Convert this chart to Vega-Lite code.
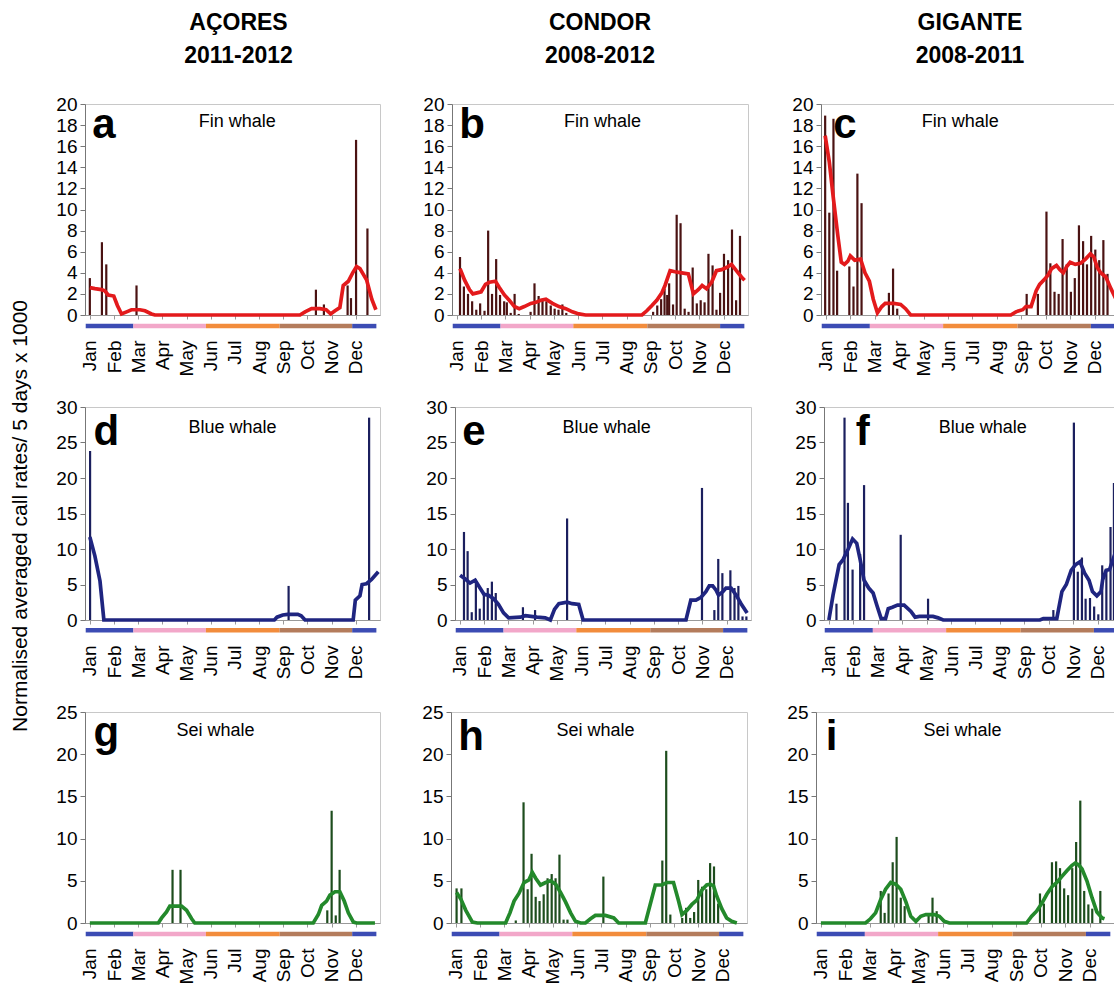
{
"$schema": "https://vega.github.io/schema/vega-lite/v6.json",
"padding": {"left": 10, "top": 11, "right": 0, "bottom": 0},
"background": "white",
"config": {"font": "Liberation Sans", "view": {"stroke": "#c8c8c8"}, "axis": {"labelFont": "Liberation Sans", "labelColor": "#000", "grid": false, "labelOverlap": false, "labelFlush": false, "labelBound": false, "tickCount": 60}, "concat": {"spacing": 38}},
"title": {"text": "Normalised averaged call rates/ 5 days x 1000", "orient": "left", "anchor": "middle", "fontSize": 21, "fontWeight": "normal", "font": "Liberation Sans", "offset": 24, "dx": -18, "color": "#000"},
"datasets": {
"seasons": [{"s":"W","t0":-0.17,"t1":1.8},{"s":"Sp","t0":1.8,"t1":4.8},{"s":"Su","t0":4.8,"t1":7.85},{"s":"A","t0":7.85,"t1":10.85},{"s":"W","t0":10.85,"t1":11.85}],
"bars": [
{"p":"a","t":0,"v":3.5},{"p":"a","t":0.5,"v":6.9},{"p":"a","t":0.68,"v":4.8},{"p":"a","t":1.93,"v":2.8},{"p":"a","t":9.35,"v":2.4},{"p":"a","t":9.68,"v":1.0},{"p":"a","t":10.66,"v":2.8},{"p":"a","t":10.8,"v":1.6},{"p":"a","t":11.01,"v":16.6},{"p":"a","t":11.48,"v":8.2},
{"p":"b","t":0.13,"v":5.5},{"p":"b","t":0.29,"v":2.7},{"p":"b","t":0.46,"v":2.0},{"p":"b","t":0.63,"v":1.3},{"p":"b","t":0.8,"v":0.5},{"p":"b","t":0.96,"v":1.1},{"p":"b","t":1.14,"v":0.4},{"p":"b","t":1.29,"v":8.0},{"p":"b","t":1.45,"v":2.0},{"p":"b","t":1.62,"v":5.3},{"p":"b","t":1.78,"v":1.9},{"p":"b","t":1.95,"v":1.3},{"p":"b","t":2.06,"v":1.2},{"p":"b","t":2.22,"v":0.2},{"p":"b","t":2.38,"v":2.0},{"p":"b","t":2.55,"v":0.1},{"p":"b","t":3.04,"v":0.3},{"p":"b","t":3.2,"v":3.0},{"p":"b","t":3.37,"v":1.8},{"p":"b","t":3.53,"v":1.5},{"p":"b","t":3.69,"v":1.3},{"p":"b","t":3.87,"v":0.9},{"p":"b","t":4.03,"v":0.6},{"p":"b","t":4.19,"v":0.5},{"p":"b","t":4.35,"v":1.0},{"p":"b","t":4.51,"v":0.2},{"p":"b","t":8.09,"v":0.3},{"p":"b","t":8.26,"v":0.9},{"p":"b","t":8.42,"v":1.5},{"p":"b","t":8.56,"v":2.5},{"p":"b","t":8.67,"v":1.9},{"p":"b","t":8.75,"v":3.0},{"p":"b","t":8.91,"v":1.0},{"p":"b","t":9.06,"v":9.5},{"p":"b","t":9.22,"v":8.7},{"p":"b","t":9.39,"v":0.6},{"p":"b","t":9.55,"v":0.3},{"p":"b","t":9.72,"v":4.5},{"p":"b","t":9.89,"v":1.1},{"p":"b","t":10.05,"v":1.4},{"p":"b","t":10.21,"v":1.2},{"p":"b","t":10.37,"v":5.8},{"p":"b","t":10.54,"v":4.7},{"p":"b","t":10.7,"v":0.5},{"p":"b","t":10.85,"v":2.1},{"p":"b","t":11.01,"v":5.8},{"p":"b","t":11.18,"v":5.2},{"p":"b","t":11.34,"v":8.1},{"p":"b","t":11.51,"v":1.4},{"p":"b","t":11.67,"v":7.5},
{"p":"c","t":-0.03,"v":18.9},{"p":"c","t":0.14,"v":9.7},{"p":"c","t":0.31,"v":18.6},{"p":"c","t":0.46,"v":4.2},{"p":"c","t":0.96,"v":4.6},{"p":"c","t":1.13,"v":2.7},{"p":"c","t":1.29,"v":13.4},{"p":"c","t":1.46,"v":10.6},{"p":"c","t":2.58,"v":2.1},{"p":"c","t":2.75,"v":4.4},{"p":"c","t":2.92,"v":0.6},{"p":"c","t":8.22,"v":2.0},{"p":"c","t":8.68,"v":2.0},{"p":"c","t":9.03,"v":9.8},{"p":"c","t":9.19,"v":4.9},{"p":"c","t":9.36,"v":2.2},{"p":"c","t":9.53,"v":2.0},{"p":"c","t":9.69,"v":7.2},{"p":"c","t":9.86,"v":4.8},{"p":"c","t":10.03,"v":2.2},{"p":"c","t":10.19,"v":3.5},{"p":"c","t":10.36,"v":8.5},{"p":"c","t":10.53,"v":7.0},{"p":"c","t":10.69,"v":4.8},{"p":"c","t":10.86,"v":7.5},{"p":"c","t":11.03,"v":6.2},{"p":"c","t":11.19,"v":5.2},{"p":"c","t":11.36,"v":7.1},{"p":"c","t":11.53,"v":3.9},{"p":"c","t":11.86,"v":4.5},
{"p":"d","t":0.01,"v":23.8},{"p":"d","t":8.22,"v":4.8},{"p":"d","t":11.55,"v":28.5},
{"p":"e","t":0.17,"v":12.4},{"p":"e","t":0.32,"v":9.7},{"p":"e","t":0.49,"v":1.1},{"p":"e","t":0.66,"v":5.7},{"p":"e","t":0.82,"v":1.6},{"p":"e","t":0.99,"v":3.5},{"p":"e","t":1.15,"v":4.5},{"p":"e","t":1.32,"v":5.4},{"p":"e","t":1.48,"v":3.8},{"p":"e","t":2.6,"v":1.8},{"p":"e","t":3.1,"v":1.4},{"p":"e","t":4.42,"v":14.3},{"p":"e","t":9.98,"v":18.6},{"p":"e","t":10.49,"v":1.4},{"p":"e","t":10.65,"v":8.6},{"p":"e","t":10.82,"v":6.6},{"p":"e","t":11.15,"v":7.0},{"p":"e","t":11.32,"v":4.5},{"p":"e","t":11.48,"v":4.8},{"p":"e","t":11.65,"v":0.5},{"p":"e","t":11.81,"v":0.5},
{"p":"f","t":0.31,"v":2.3},{"p":"f","t":0.64,"v":28.5},{"p":"f","t":0.78,"v":16.5},{"p":"f","t":0.97,"v":7.1},{"p":"f","t":1.28,"v":9.3},{"p":"f","t":1.44,"v":19.0},{"p":"f","t":2.94,"v":12.0},{"p":"f","t":4.06,"v":3.0},{"p":"f","t":9.19,"v":1.4},{"p":"f","t":10.03,"v":27.8},{"p":"f","t":10.19,"v":6.8},{"p":"f","t":10.36,"v":8.8},{"p":"f","t":10.51,"v":3.0},{"p":"f","t":10.69,"v":3.1},{"p":"f","t":10.86,"v":1.9},{"p":"f","t":11.03,"v":0.8},{"p":"f","t":11.19,"v":7.7},{"p":"f","t":11.36,"v":7.0},{"p":"f","t":11.53,"v":13.1},{"p":"f","t":11.67,"v":19.3},{"p":"f","t":11.86,"v":2.3},
{"p":"g","t":3.42,"v":6.3},{"p":"g","t":3.75,"v":6.3},{"p":"g","t":9.82,"v":1.5},{"p":"g","t":10.0,"v":13.3},{"p":"g","t":10.17,"v":0.9},{"p":"g","t":10.33,"v":6.3},
{"p":"h","t":0.03,"v":4.1},{"p":"h","t":0.23,"v":4.1},{"p":"h","t":2.47,"v":0.3},{"p":"h","t":2.79,"v":14.3},{"p":"h","t":2.96,"v":4.0},{"p":"h","t":3.12,"v":8.2},{"p":"h","t":3.29,"v":3.1},{"p":"h","t":3.45,"v":2.6},{"p":"h","t":3.62,"v":3.4},{"p":"h","t":3.78,"v":5.3},{"p":"h","t":3.95,"v":5.8},{"p":"h","t":4.11,"v":5.3},{"p":"h","t":4.27,"v":8.1},{"p":"h","t":4.44,"v":0.4},{"p":"h","t":4.6,"v":0.4},{"p":"h","t":6.08,"v":5.5},{"p":"h","t":8.51,"v":7.4},{"p":"h","t":8.67,"v":20.4},{"p":"h","t":8.84,"v":1.0},{"p":"h","t":9.33,"v":0.6},{"p":"h","t":9.49,"v":1.8},{"p":"h","t":9.66,"v":0.6},{"p":"h","t":9.82,"v":1.3},{"p":"h","t":9.99,"v":5.1},{"p":"h","t":10.15,"v":4.3},{"p":"h","t":10.32,"v":4.0},{"p":"h","t":10.48,"v":7.1},{"p":"h","t":10.64,"v":6.7},{"p":"h","t":10.81,"v":2.3},
{"p":"i","t":2.45,"v":3.8},{"p":"i","t":2.61,"v":1.2},{"p":"i","t":2.77,"v":3.5},{"p":"i","t":2.94,"v":7.2},{"p":"i","t":3.1,"v":10.2},{"p":"i","t":3.27,"v":3.0},{"p":"i","t":3.43,"v":2.0},{"p":"i","t":4.41,"v":0.9},{"p":"i","t":4.57,"v":3.0},{"p":"i","t":4.74,"v":1.4},{"p":"i","t":8.97,"v":3.5},{"p":"i","t":9.13,"v":2.3},{"p":"i","t":9.46,"v":7.2},{"p":"i","t":9.63,"v":7.3},{"p":"i","t":9.79,"v":6.5},{"p":"i","t":9.96,"v":4.1},{"p":"i","t":10.12,"v":3.3},{"p":"i","t":10.29,"v":6.5},{"p":"i","t":10.45,"v":9.6},{"p":"i","t":10.62,"v":14.5},{"p":"i","t":10.78,"v":3.8},{"p":"i","t":10.95,"v":2.2},{"p":"i","t":11.11,"v":1.7},{"p":"i","t":11.44,"v":3.8}
],
"lines": [
{"p":"a","t":0,"v":2.6},{"p":"a","t":0.21,"v":2.5},{"p":"a","t":0.48,"v":2.4},{"p":"a","t":0.62,"v":2.3},{"p":"a","t":0.76,"v":1.9},{"p":"a","t":0.99,"v":1.8},{"p":"a","t":1.14,"v":0.9},{"p":"a","t":1.31,"v":0.1},{"p":"a","t":1.52,"v":0.3},{"p":"a","t":1.72,"v":0.5},{"p":"a","t":2.07,"v":0.5},{"p":"a","t":2.28,"v":0.4},{"p":"a","t":2.55,"v":0.1},{"p":"a","t":2.69,"v":0},{"p":"a","t":8.69,"v":0},{"p":"a","t":8.9,"v":0.3},{"p":"a","t":9.17,"v":0.6},{"p":"a","t":9.52,"v":0.6},{"p":"a","t":9.77,"v":0.5},{"p":"a","t":9.96,"v":0.1},{"p":"a","t":10.14,"v":0.4},{"p":"a","t":10.34,"v":0.7},{"p":"a","t":10.48,"v":2.8},{"p":"a","t":10.69,"v":3.2},{"p":"a","t":10.87,"v":4.0},{"p":"a","t":11.03,"v":4.6},{"p":"a","t":11.17,"v":4.4},{"p":"a","t":11.45,"v":3.3},{"p":"a","t":11.66,"v":1.5},{"p":"a","t":11.83,"v":0.5},
{"p":"b","t":0.13,"v":4.4},{"p":"b","t":0.32,"v":3.3},{"p":"b","t":0.52,"v":2.4},{"p":"b","t":0.66,"v":2.0},{"p":"b","t":0.83,"v":2.1},{"p":"b","t":1.0,"v":2.2},{"p":"b","t":1.18,"v":2.9},{"p":"b","t":1.34,"v":3.1},{"p":"b","t":1.59,"v":3.2},{"p":"b","t":1.75,"v":2.6},{"p":"b","t":1.96,"v":1.9},{"p":"b","t":2.16,"v":1.4},{"p":"b","t":2.37,"v":0.8},{"p":"b","t":2.57,"v":0.6},{"p":"b","t":2.78,"v":0.8},{"p":"b","t":3.05,"v":1.1},{"p":"b","t":3.26,"v":1.2},{"p":"b","t":3.46,"v":1.4},{"p":"b","t":3.67,"v":1.5},{"p":"b","t":3.94,"v":1.1},{"p":"b","t":4.21,"v":0.8},{"p":"b","t":4.49,"v":0.6},{"p":"b","t":4.76,"v":0.3},{"p":"b","t":5.03,"v":0.1},{"p":"b","t":5.31,"v":0},{"p":"b","t":7.63,"v":0},{"p":"b","t":7.83,"v":0.4},{"p":"b","t":8.04,"v":0.9},{"p":"b","t":8.24,"v":1.4},{"p":"b","t":8.45,"v":2.1},{"p":"b","t":8.58,"v":2.8},{"p":"b","t":8.79,"v":4.2},{"p":"b","t":8.99,"v":4.1},{"p":"b","t":9.27,"v":4.0},{"p":"b","t":9.54,"v":3.9},{"p":"b","t":9.75,"v":2.0},{"p":"b","t":9.95,"v":2.4},{"p":"b","t":10.11,"v":2.8},{"p":"b","t":10.29,"v":2.5},{"p":"b","t":10.5,"v":3.1},{"p":"b","t":10.7,"v":4.2},{"p":"b","t":10.91,"v":4.3},{"p":"b","t":11.11,"v":4.5},{"p":"b","t":11.32,"v":4.8},{"p":"b","t":11.52,"v":4.2},{"p":"b","t":11.73,"v":3.6},{"p":"b","t":11.86,"v":3.3},
{"p":"c","t":-0.03,"v":17.0},{"p":"c","t":0.14,"v":14.5},{"p":"c","t":0.31,"v":11.0},{"p":"c","t":0.49,"v":7.5},{"p":"c","t":0.63,"v":5.0},{"p":"c","t":0.76,"v":4.8},{"p":"c","t":0.9,"v":5.1},{"p":"c","t":1.0,"v":5.6},{"p":"c","t":1.18,"v":5.2},{"p":"c","t":1.42,"v":5.3},{"p":"c","t":1.6,"v":4.0},{"p":"c","t":1.78,"v":3.2},{"p":"c","t":1.94,"v":1.5},{"p":"c","t":2.11,"v":0.2},{"p":"c","t":2.29,"v":0.8},{"p":"c","t":2.43,"v":1.1},{"p":"c","t":2.78,"v":1.1},{"p":"c","t":3.06,"v":1.0},{"p":"c","t":3.26,"v":0.6},{"p":"c","t":3.47,"v":0},{"p":"c","t":7.57,"v":0},{"p":"c","t":7.78,"v":0.3},{"p":"c","t":8.06,"v":0.5},{"p":"c","t":8.19,"v":0.8},{"p":"c","t":8.4,"v":0.8},{"p":"c","t":8.61,"v":2.3},{"p":"c","t":8.75,"v":2.9},{"p":"c","t":8.96,"v":3.4},{"p":"c","t":9.1,"v":3.8},{"p":"c","t":9.24,"v":4.4},{"p":"c","t":9.44,"v":4.7},{"p":"c","t":9.58,"v":4.3},{"p":"c","t":9.72,"v":4.0},{"p":"c","t":9.86,"v":4.6},{"p":"c","t":10.0,"v":5.0},{"p":"c","t":10.21,"v":4.8},{"p":"c","t":10.42,"v":4.9},{"p":"c","t":10.63,"v":5.3},{"p":"c","t":10.83,"v":5.8},{"p":"c","t":10.97,"v":5.5},{"p":"c","t":11.11,"v":4.5},{"p":"c","t":11.25,"v":4.0},{"p":"c","t":11.46,"v":3.6},{"p":"c","t":11.67,"v":2.5},{"p":"c","t":11.88,"v":1.5},
{"p":"d","t":0,"v":11.7},{"p":"d","t":0.21,"v":9.0},{"p":"d","t":0.42,"v":5.5},{"p":"d","t":0.58,"v":0},{"p":"d","t":7.63,"v":0},{"p":"d","t":7.74,"v":0.4},{"p":"d","t":7.98,"v":0.7},{"p":"d","t":8.18,"v":0.8},{"p":"d","t":8.6,"v":0.8},{"p":"d","t":8.74,"v":0.6},{"p":"d","t":8.9,"v":0},{"p":"d","t":10.89,"v":0},{"p":"d","t":10.98,"v":2.8},{"p":"d","t":11.17,"v":3.4},{"p":"d","t":11.26,"v":5.0},{"p":"d","t":11.44,"v":5.1},{"p":"d","t":11.65,"v":5.7},{"p":"d","t":11.93,"v":6.8},
{"p":"e","t":0.01,"v":6.3},{"p":"e","t":0.21,"v":5.8},{"p":"e","t":0.42,"v":5.2},{"p":"e","t":0.63,"v":5.6},{"p":"e","t":0.83,"v":4.5},{"p":"e","t":1.0,"v":3.6},{"p":"e","t":1.18,"v":3.5},{"p":"e","t":1.39,"v":3.0},{"p":"e","t":1.59,"v":2.2},{"p":"e","t":1.8,"v":1.0},{"p":"e","t":2.01,"v":0.3},{"p":"e","t":2.49,"v":0.4},{"p":"e","t":2.7,"v":0.6},{"p":"e","t":3.18,"v":0.4},{"p":"e","t":3.52,"v":0.3},{"p":"e","t":3.73,"v":0},{"p":"e","t":3.9,"v":1.5},{"p":"e","t":4.08,"v":2.3},{"p":"e","t":4.42,"v":2.5},{"p":"e","t":4.63,"v":2.3},{"p":"e","t":4.9,"v":2.2},{"p":"e","t":5.08,"v":0},{"p":"e","t":9.32,"v":0},{"p":"e","t":9.52,"v":2.8},{"p":"e","t":9.73,"v":2.8},{"p":"e","t":9.94,"v":3.2},{"p":"e","t":10.14,"v":4.0},{"p":"e","t":10.28,"v":4.8},{"p":"e","t":10.42,"v":4.8},{"p":"e","t":10.56,"v":4.2},{"p":"e","t":10.66,"v":3.5},{"p":"e","t":10.84,"v":4.0},{"p":"e","t":10.97,"v":4.5},{"p":"e","t":11.18,"v":4.5},{"p":"e","t":11.39,"v":3.5},{"p":"e","t":11.59,"v":2.3},{"p":"e","t":11.84,"v":1.0},
{"p":"f","t":0,"v":0},{"p":"f","t":0.17,"v":3.5},{"p":"f","t":0.42,"v":7.8},{"p":"f","t":0.58,"v":8.5},{"p":"f","t":0.79,"v":10.0},{"p":"f","t":0.97,"v":11.4},{"p":"f","t":1.14,"v":10.8},{"p":"f","t":1.28,"v":8.5},{"p":"f","t":1.44,"v":5.6},{"p":"f","t":1.63,"v":4.5},{"p":"f","t":1.81,"v":3.8},{"p":"f","t":1.97,"v":2.0},{"p":"f","t":2.14,"v":0.2},{"p":"f","t":2.32,"v":0.2},{"p":"f","t":2.43,"v":1.6},{"p":"f","t":2.6,"v":1.8},{"p":"f","t":2.81,"v":2.1},{"p":"f","t":3.08,"v":2.1},{"p":"f","t":3.36,"v":1.2},{"p":"f","t":3.53,"v":0.4},{"p":"f","t":3.71,"v":0.5},{"p":"f","t":4.26,"v":0.5},{"p":"f","t":4.47,"v":0.3},{"p":"f","t":4.68,"v":0},{"p":"f","t":8.64,"v":0},{"p":"f","t":8.78,"v":0.2},{"p":"f","t":9.33,"v":0.2},{"p":"f","t":9.54,"v":4.0},{"p":"f","t":9.72,"v":5.0},{"p":"f","t":9.92,"v":7.0},{"p":"f","t":10.1,"v":7.8},{"p":"f","t":10.28,"v":8.2},{"p":"f","t":10.47,"v":6.6},{"p":"f","t":10.65,"v":5.6},{"p":"f","t":10.79,"v":4.0},{"p":"f","t":10.97,"v":3.4},{"p":"f","t":11.14,"v":4.0},{"p":"f","t":11.21,"v":5.7},{"p":"f","t":11.35,"v":7.0},{"p":"f","t":11.49,"v":7.1},{"p":"f","t":11.63,"v":8.5},{"p":"f","t":11.76,"v":9.8},{"p":"f","t":11.9,"v":11.0},
{"p":"g","t":0,"v":0},{"p":"g","t":2.83,"v":0},{"p":"g","t":2.97,"v":0.6},{"p":"g","t":3.17,"v":1.3},{"p":"g","t":3.31,"v":2.0},{"p":"g","t":3.79,"v":2.0},{"p":"g","t":4.0,"v":1.5},{"p":"g","t":4.21,"v":0.5},{"p":"g","t":4.34,"v":0},{"p":"g","t":9.24,"v":0},{"p":"g","t":9.45,"v":1.0},{"p":"g","t":9.59,"v":2.1},{"p":"g","t":9.79,"v":2.6},{"p":"g","t":9.93,"v":3.3},{"p":"g","t":10.14,"v":3.7},{"p":"g","t":10.34,"v":3.7},{"p":"g","t":10.52,"v":2.6},{"p":"g","t":10.69,"v":1.2},{"p":"g","t":10.9,"v":0.1},{"p":"g","t":11.03,"v":0},{"p":"g","t":11.79,"v":0},
{"p":"h","t":0.03,"v":3.6},{"p":"h","t":0.21,"v":2.8},{"p":"h","t":0.41,"v":1.5},{"p":"h","t":0.68,"v":0.1},{"p":"h","t":0.89,"v":0},{"p":"h","t":2.05,"v":0},{"p":"h","t":2.23,"v":1.2},{"p":"h","t":2.4,"v":2.6},{"p":"h","t":2.6,"v":3.5},{"p":"h","t":2.81,"v":4.8},{"p":"h","t":3.01,"v":5.1},{"p":"h","t":3.15,"v":6.0},{"p":"h","t":3.29,"v":5.3},{"p":"h","t":3.49,"v":4.5},{"p":"h","t":3.7,"v":4.8},{"p":"h","t":3.9,"v":5.0},{"p":"h","t":4.11,"v":4.6},{"p":"h","t":4.32,"v":3.6},{"p":"h","t":4.52,"v":2.5},{"p":"h","t":4.73,"v":1.2},{"p":"h","t":4.93,"v":0.2},{"p":"h","t":5.14,"v":0},{"p":"h","t":5.34,"v":0},{"p":"h","t":5.55,"v":0.5},{"p":"h","t":5.75,"v":0.9},{"p":"h","t":6.16,"v":0.9},{"p":"h","t":6.51,"v":0.6},{"p":"h","t":6.71,"v":0},{"p":"h","t":7.81,"v":0},{"p":"h","t":8.22,"v":4.5},{"p":"h","t":8.49,"v":4.5},{"p":"h","t":8.7,"v":4.8},{"p":"h","t":8.97,"v":4.8},{"p":"h","t":9.18,"v":2.6},{"p":"h","t":9.32,"v":1.0},{"p":"h","t":9.52,"v":1.5},{"p":"h","t":9.73,"v":2.2},{"p":"h","t":9.93,"v":2.7},{"p":"h","t":10.14,"v":3.9},{"p":"h","t":10.34,"v":4.5},{"p":"h","t":10.48,"v":4.6},{"p":"h","t":10.62,"v":4.4},{"p":"h","t":10.75,"v":3.2},{"p":"h","t":10.96,"v":1.7},{"p":"h","t":11.16,"v":0.6},{"p":"h","t":11.37,"v":0.2},{"p":"h","t":11.58,"v":0},
{"p":"i","t":0,"v":0},{"p":"i","t":1.83,"v":0},{"p":"i","t":2.03,"v":0.5},{"p":"i","t":2.24,"v":1.2},{"p":"i","t":2.45,"v":2.8},{"p":"i","t":2.65,"v":4.0},{"p":"i","t":2.86,"v":4.8},{"p":"i","t":3.06,"v":4.6},{"p":"i","t":3.27,"v":4.0},{"p":"i","t":3.48,"v":2.5},{"p":"i","t":3.68,"v":0.8},{"p":"i","t":3.89,"v":0.2},{"p":"i","t":4.09,"v":0.8},{"p":"i","t":4.3,"v":1.0},{"p":"i","t":4.64,"v":1.0},{"p":"i","t":4.85,"v":0.8},{"p":"i","t":5.05,"v":0.2},{"p":"i","t":5.26,"v":0},{"p":"i","t":8.42,"v":0},{"p":"i","t":8.63,"v":0.8},{"p":"i","t":8.83,"v":1.4},{"p":"i","t":9.04,"v":2.3},{"p":"i","t":9.25,"v":3.4},{"p":"i","t":9.46,"v":4.3},{"p":"i","t":9.66,"v":4.8},{"p":"i","t":9.86,"v":5.5},{"p":"i","t":10.07,"v":6.2},{"p":"i","t":10.27,"v":6.8},{"p":"i","t":10.41,"v":7.1},{"p":"i","t":10.55,"v":6.9},{"p":"i","t":10.69,"v":6.4},{"p":"i","t":10.89,"v":5.0},{"p":"i","t":11.1,"v":3.0},{"p":"i","t":11.3,"v":1.3},{"p":"i","t":11.51,"v":0.6},{"p":"i","t":11.61,"v":0.5}
]
},
"vconcat": [
{"hconcat": [
{"width": 295, "height": 211,
 "title": {"text": ["AÇORES", "2011-2012"], "fontSize": 23, "fontWeight": "bold", "lineHeight": 33, "offset": 27, "frame": "group", "anchor": "middle", "dx": 6, "color": "#000"},
 "layer": [
  {"data": {"name": "seasons"}, "mark": {"type": "rule", "strokeWidth": 4.5},
   "encoding": {"x": {"field": "t0", "type": "quantitative", "title": null, "scale": {"domain": [-0.2, 12], "nice": false, "zero": false}, "axis": {"values": [0,1,2,3,4,5,6,7,8,9,10,11], "tickCount": 60, "labelExpr": "['Jan','Feb','Mar','Apr','May','Jun','Jul','Aug','Sep','Oct','Nov','Dec'][datum.value]", "labelAngle": 270, "labelFontSize": 19, "labelPadding": 21, "tickSize": 4, "domainColor": "#999", "tickColor": "#999", "labelOverlap": false, "labelFlush": false}},
    "x2": {"field": "t1"},
    "y": {"datum": -1.05, "type": "quantitative", "title": null, "scale": {"domain": [0, 20], "nice": false}, "axis": {"values": [0,2,4,6,8,10,12,14,16,18,20], "format": "d", "tickCount": 60, "labelFontSize": 19, "tickSize": 5, "labelPadding": 3, "domainColor": "#777", "tickColor": "#777", "labelOverlap": false}},
    "color": {"field": "s", "type": "nominal", "scale": {"domain": ["W","Sp","Su","A"], "range": ["#3c4cb4","#f2a7c9","#f28c3c","#b47c5c"]}, "legend": null}}},
  {"data": {"name": "bars"}, "transform": [{"filter": "datum.p=='a'"}], "mark": {"type": "rule", "strokeWidth": 2.2, "color": "#4a1212"},
   "encoding": {"x": {"field": "t", "type": "quantitative", "title": null}, "y": {"field": "v", "type": "quantitative", "title": null}, "y2": {"datum": 0}}},
  {"data": {"name": "lines"}, "transform": [{"filter": "datum.p=='a'"}], "mark": {"type": "line", "strokeWidth": 3.7, "color": "#e31a1c"},
   "encoding": {"x": {"field": "t", "type": "quantitative", "title": null}, "y": {"field": "v", "type": "quantitative", "title": null}}},
  {"data": {"values": [{}]}, "mark": {"type": "text", "text": "a", "fontSize": 42, "fontWeight": "bold", "align": "left", "baseline": "alphabetic", "color": "#000"},
   "encoding": {"x": {"datum": 0.1, "type": "quantitative", "title": null}, "y": {"datum": 16.8, "type": "quantitative", "title": null}}},
  {"data": {"values": [{}]}, "mark": {"type": "text", "text": "Fin whale", "fontSize": 18, "align": "center", "baseline": "alphabetic", "color": "#000"},
   "encoding": {"x": {"datum": 6.1, "type": "quantitative", "title": null}, "y": {"datum": 17.8, "type": "quantitative", "title": null}}}
 ]},
{"width": 296, "height": 211,
 "title": {"text": ["CONDOR", "2008-2012"], "fontSize": 23, "fontWeight": "bold", "lineHeight": 33, "offset": 27, "frame": "group", "anchor": "middle", "color": "#000"},
 "layer": [
  {"data": {"name": "seasons"}, "mark": {"type": "rule", "strokeWidth": 4.5},
   "encoding": {"x": {"field": "t0", "type": "quantitative", "title": null, "scale": {"domain": [-0.2, 12], "nice": false, "zero": false}, "axis": {"values": [0,1,2,3,4,5,6,7,8,9,10,11], "tickCount": 60, "labelExpr": "['Jan','Feb','Mar','Apr','May','Jun','Jul','Aug','Sep','Oct','Nov','Dec'][datum.value]", "labelAngle": 270, "labelFontSize": 19, "labelPadding": 21, "tickSize": 4, "domainColor": "#999", "tickColor": "#999", "labelOverlap": false, "labelFlush": false}},
    "x2": {"field": "t1"},
    "y": {"datum": -1.05, "type": "quantitative", "title": null, "scale": {"domain": [0, 20], "nice": false}, "axis": {"values": [0,2,4,6,8,10,12,14,16,18,20], "format": "d", "tickCount": 60, "labelFontSize": 19, "tickSize": 5, "labelPadding": 3, "domainColor": "#777", "tickColor": "#777", "labelOverlap": false}},
    "color": {"field": "s", "type": "nominal", "scale": {"domain": ["W","Sp","Su","A"], "range": ["#3c4cb4","#f2a7c9","#f28c3c","#b47c5c"]}, "legend": null}}},
  {"data": {"name": "bars"}, "transform": [{"filter": "datum.p=='b'"}], "mark": {"type": "rule", "strokeWidth": 2.2, "color": "#4a1212"},
   "encoding": {"x": {"field": "t", "type": "quantitative", "title": null}, "y": {"field": "v", "type": "quantitative", "title": null}, "y2": {"datum": 0}}},
  {"data": {"name": "lines"}, "transform": [{"filter": "datum.p=='b'"}], "mark": {"type": "line", "strokeWidth": 3.7, "color": "#e31a1c"},
   "encoding": {"x": {"field": "t", "type": "quantitative", "title": null}, "y": {"field": "v", "type": "quantitative", "title": null}}},
  {"data": {"values": [{}]}, "mark": {"type": "text", "text": "b", "fontSize": 42, "fontWeight": "bold", "align": "left", "baseline": "alphabetic", "color": "#000"},
   "encoding": {"x": {"datum": 0.1, "type": "quantitative", "title": null}, "y": {"datum": 16.8, "type": "quantitative", "title": null}}},
  {"data": {"values": [{}]}, "mark": {"type": "text", "text": "Fin whale", "fontSize": 18, "align": "center", "baseline": "alphabetic", "color": "#000"},
   "encoding": {"x": {"datum": 6.0, "type": "quantitative", "title": null}, "y": {"datum": 17.8, "type": "quantitative", "title": null}}}
 ]},
{"width": 298, "height": 211,
 "title": {"text": ["GIGANTE", "2008-2011"], "fontSize": 23, "fontWeight": "bold", "lineHeight": 33, "offset": 27, "frame": "group", "anchor": "middle", "color": "#000"},
 "layer": [
  {"data": {"name": "seasons"}, "mark": {"type": "rule", "strokeWidth": 4.5},
   "encoding": {"x": {"field": "t0", "type": "quantitative", "title": null, "scale": {"domain": [-0.2, 12], "nice": false, "zero": false}, "axis": {"values": [0,1,2,3,4,5,6,7,8,9,10,11], "tickCount": 60, "labelExpr": "['Jan','Feb','Mar','Apr','May','Jun','Jul','Aug','Sep','Oct','Nov','Dec'][datum.value]", "labelAngle": 270, "labelFontSize": 19, "labelPadding": 21, "tickSize": 4, "domainColor": "#999", "tickColor": "#999", "labelOverlap": false, "labelFlush": false}},
    "x2": {"field": "t1"},
    "y": {"datum": -1.05, "type": "quantitative", "title": null, "scale": {"domain": [0, 20], "nice": false}, "axis": {"values": [0,2,4,6,8,10,12,14,16,18,20], "format": "d", "tickCount": 60, "labelFontSize": 19, "tickSize": 5, "labelPadding": 3, "domainColor": "#777", "tickColor": "#777", "labelOverlap": false}},
    "color": {"field": "s", "type": "nominal", "scale": {"domain": ["W","Sp","Su","A"], "range": ["#3c4cb4","#f2a7c9","#f28c3c","#b47c5c"]}, "legend": null}}},
  {"data": {"name": "bars"}, "transform": [{"filter": "datum.p=='c'"}], "mark": {"type": "rule", "strokeWidth": 2.2, "color": "#4a1212"},
   "encoding": {"x": {"field": "t", "type": "quantitative", "title": null}, "y": {"field": "v", "type": "quantitative", "title": null}, "y2": {"datum": 0}}},
  {"data": {"name": "lines"}, "transform": [{"filter": "datum.p=='c'"}], "mark": {"type": "line", "strokeWidth": 3.7, "color": "#e31a1c"},
   "encoding": {"x": {"field": "t", "type": "quantitative", "title": null}, "y": {"field": "v", "type": "quantitative", "title": null}}},
  {"data": {"values": [{}]}, "mark": {"type": "text", "text": "c", "fontSize": 42, "fontWeight": "bold", "align": "left", "baseline": "alphabetic", "color": "#000"},
   "encoding": {"x": {"datum": 0.3, "type": "quantitative", "title": null}, "y": {"datum": 16.8, "type": "quantitative", "title": null}}},
  {"data": {"values": [{}]}, "mark": {"type": "text", "text": "Fin whale", "fontSize": 18, "align": "center", "baseline": "alphabetic", "color": "#000"},
   "encoding": {"x": {"datum": 5.5, "type": "quantitative", "title": null}, "y": {"datum": 17.8, "type": "quantitative", "title": null}}}
 ]}
]},
{"hconcat": [
{"width": 295, "height": 213,
 "layer": [
  {"data": {"name": "seasons"}, "mark": {"type": "rule", "strokeWidth": 4.5},
   "encoding": {"x": {"field": "t0", "type": "quantitative", "title": null, "scale": {"domain": [-0.2, 12], "nice": false, "zero": false}, "axis": {"values": [0,1,2,3,4,5,6,7,8,9,10,11], "tickCount": 60, "labelExpr": "['Jan','Feb','Mar','Apr','May','Jun','Jul','Aug','Sep','Oct','Nov','Dec'][datum.value]", "labelAngle": 270, "labelFontSize": 19, "labelPadding": 21, "tickSize": 4, "domainColor": "#999", "tickColor": "#999", "labelOverlap": false, "labelFlush": false}},
    "x2": {"field": "t1"},
    "y": {"datum": -1.45, "type": "quantitative", "title": null, "scale": {"domain": [0, 30], "nice": false}, "axis": {"values": [0,5,10,15,20,25,30], "format": "d", "tickCount": 60, "labelFontSize": 19, "tickSize": 5, "labelPadding": 3, "domainColor": "#777", "tickColor": "#777", "labelOverlap": false}},
    "color": {"field": "s", "type": "nominal", "scale": {"domain": ["W","Sp","Su","A"], "range": ["#3c4cb4","#f2a7c9","#f28c3c","#b47c5c"]}, "legend": null}}},
  {"data": {"name": "bars"}, "transform": [{"filter": "datum.p=='d'"}], "mark": {"type": "rule", "strokeWidth": 2.2, "color": "#1b1f5e"},
   "encoding": {"x": {"field": "t", "type": "quantitative", "title": null}, "y": {"field": "v", "type": "quantitative", "title": null}, "y2": {"datum": 0}}},
  {"data": {"name": "lines"}, "transform": [{"filter": "datum.p=='d'"}], "mark": {"type": "line", "strokeWidth": 3.7, "color": "#1f2580"},
   "encoding": {"x": {"field": "t", "type": "quantitative", "title": null}, "y": {"field": "v", "type": "quantitative", "title": null}}},
  {"data": {"values": [{}]}, "mark": {"type": "text", "text": "d", "fontSize": 42, "fontWeight": "bold", "align": "left", "baseline": "alphabetic", "color": "#000"},
   "encoding": {"x": {"datum": 0.15, "type": "quantitative", "title": null}, "y": {"datum": 24.7, "type": "quantitative", "title": null}}},
  {"data": {"values": [{}]}, "mark": {"type": "text", "text": "Blue whale", "fontSize": 18, "align": "center", "baseline": "alphabetic", "color": "#000"},
   "encoding": {"x": {"datum": 5.9, "type": "quantitative", "title": null}, "y": {"datum": 26.3, "type": "quantitative", "title": null}}}
 ]},
{"width": 296, "height": 213,
 "layer": [
  {"data": {"name": "seasons"}, "mark": {"type": "rule", "strokeWidth": 4.5},
   "encoding": {"x": {"field": "t0", "type": "quantitative", "title": null, "scale": {"domain": [-0.2, 12], "nice": false, "zero": false}, "axis": {"values": [0,1,2,3,4,5,6,7,8,9,10,11], "tickCount": 60, "labelExpr": "['Jan','Feb','Mar','Apr','May','Jun','Jul','Aug','Sep','Oct','Nov','Dec'][datum.value]", "labelAngle": 270, "labelFontSize": 19, "labelPadding": 21, "tickSize": 4, "domainColor": "#999", "tickColor": "#999", "labelOverlap": false, "labelFlush": false}},
    "x2": {"field": "t1"},
    "y": {"datum": -1.45, "type": "quantitative", "title": null, "scale": {"domain": [0, 30], "nice": false}, "axis": {"values": [0,5,10,15,20,25,30], "format": "d", "tickCount": 60, "labelFontSize": 19, "tickSize": 5, "labelPadding": 3, "domainColor": "#777", "tickColor": "#777", "labelOverlap": false}},
    "color": {"field": "s", "type": "nominal", "scale": {"domain": ["W","Sp","Su","A"], "range": ["#3c4cb4","#f2a7c9","#f28c3c","#b47c5c"]}, "legend": null}}},
  {"data": {"name": "bars"}, "transform": [{"filter": "datum.p=='e'"}], "mark": {"type": "rule", "strokeWidth": 2.2, "color": "#1b1f5e"},
   "encoding": {"x": {"field": "t", "type": "quantitative", "title": null}, "y": {"field": "v", "type": "quantitative", "title": null}, "y2": {"datum": 0}}},
  {"data": {"name": "lines"}, "transform": [{"filter": "datum.p=='e'"}], "mark": {"type": "line", "strokeWidth": 3.7, "color": "#1f2580"},
   "encoding": {"x": {"field": "t", "type": "quantitative", "title": null}, "y": {"field": "v", "type": "quantitative", "title": null}}},
  {"data": {"values": [{}]}, "mark": {"type": "text", "text": "e", "fontSize": 42, "fontWeight": "bold", "align": "left", "baseline": "alphabetic", "color": "#000"},
   "encoding": {"x": {"datum": 0.1, "type": "quantitative", "title": null}, "y": {"datum": 24.7, "type": "quantitative", "title": null}}},
  {"data": {"values": [{}]}, "mark": {"type": "text", "text": "Blue whale", "fontSize": 18, "align": "center", "baseline": "alphabetic", "color": "#000"},
   "encoding": {"x": {"datum": 6.05, "type": "quantitative", "title": null}, "y": {"datum": 26.3, "type": "quantitative", "title": null}}}
 ]},
{"width": 298, "height": 213,
 "layer": [
  {"data": {"name": "seasons"}, "mark": {"type": "rule", "strokeWidth": 4.5},
   "encoding": {"x": {"field": "t0", "type": "quantitative", "title": null, "scale": {"domain": [-0.2, 12], "nice": false, "zero": false}, "axis": {"values": [0,1,2,3,4,5,6,7,8,9,10,11], "tickCount": 60, "labelExpr": "['Jan','Feb','Mar','Apr','May','Jun','Jul','Aug','Sep','Oct','Nov','Dec'][datum.value]", "labelAngle": 270, "labelFontSize": 19, "labelPadding": 21, "tickSize": 4, "domainColor": "#999", "tickColor": "#999", "labelOverlap": false, "labelFlush": false}},
    "x2": {"field": "t1"},
    "y": {"datum": -1.45, "type": "quantitative", "title": null, "scale": {"domain": [0, 30], "nice": false}, "axis": {"values": [0,5,10,15,20,25,30], "format": "d", "tickCount": 60, "labelFontSize": 19, "tickSize": 5, "labelPadding": 3, "domainColor": "#777", "tickColor": "#777", "labelOverlap": false}},
    "color": {"field": "s", "type": "nominal", "scale": {"domain": ["W","Sp","Su","A"], "range": ["#3c4cb4","#f2a7c9","#f28c3c","#b47c5c"]}, "legend": null}}},
  {"data": {"name": "bars"}, "transform": [{"filter": "datum.p=='f'"}], "mark": {"type": "rule", "strokeWidth": 2.2, "color": "#1b1f5e"},
   "encoding": {"x": {"field": "t", "type": "quantitative", "title": null}, "y": {"field": "v", "type": "quantitative", "title": null}, "y2": {"datum": 0}}},
  {"data": {"name": "lines"}, "transform": [{"filter": "datum.p=='f'"}], "mark": {"type": "line", "strokeWidth": 3.7, "color": "#1f2580"},
   "encoding": {"x": {"field": "t", "type": "quantitative", "title": null}, "y": {"field": "v", "type": "quantitative", "title": null}}},
  {"data": {"values": [{}]}, "mark": {"type": "text", "text": "f", "fontSize": 42, "fontWeight": "bold", "align": "left", "baseline": "alphabetic", "color": "#000"},
   "encoding": {"x": {"datum": 1.1, "type": "quantitative", "title": null}, "y": {"datum": 24.7, "type": "quantitative", "title": null}}},
  {"data": {"values": [{}]}, "mark": {"type": "text", "text": "Blue whale", "fontSize": 18, "align": "center", "baseline": "alphabetic", "color": "#000"},
   "encoding": {"x": {"datum": 6.3, "type": "quantitative", "title": null}, "y": {"datum": 26.3, "type": "quantitative", "title": null}}}
 ]}
]},
{"hconcat": [
{"width": 295, "height": 211,
 "layer": [
  {"data": {"name": "seasons"}, "mark": {"type": "rule", "strokeWidth": 4.5},
   "encoding": {"x": {"field": "t0", "type": "quantitative", "title": null, "scale": {"domain": [-0.2, 12], "nice": false, "zero": false}, "axis": {"values": [0,1,2,3,4,5,6,7,8,9,10,11], "tickCount": 60, "labelExpr": "['Jan','Feb','Mar','Apr','May','Jun','Jul','Aug','Sep','Oct','Nov','Dec'][datum.value]", "labelAngle": 270, "labelFontSize": 19, "labelPadding": 21, "tickSize": 4, "domainColor": "#999", "tickColor": "#999", "labelOverlap": false, "labelFlush": false}},
    "x2": {"field": "t1"},
    "y": {"datum": -1.3, "type": "quantitative", "title": null, "scale": {"domain": [0, 25], "nice": false}, "axis": {"values": [0,5,10,15,20,25], "format": "d", "tickCount": 60, "labelFontSize": 19, "tickSize": 5, "labelPadding": 3, "domainColor": "#777", "tickColor": "#777", "labelOverlap": false}},
    "color": {"field": "s", "type": "nominal", "scale": {"domain": ["W","Sp","Su","A"], "range": ["#3c4cb4","#f2a7c9","#f28c3c","#b47c5c"]}, "legend": null}}},
  {"data": {"name": "bars"}, "transform": [{"filter": "datum.p=='g'"}], "mark": {"type": "rule", "strokeWidth": 2.2, "color": "#1d4d1d"},
   "encoding": {"x": {"field": "t", "type": "quantitative", "title": null}, "y": {"field": "v", "type": "quantitative", "title": null}, "y2": {"datum": 0}}},
  {"data": {"name": "lines"}, "transform": [{"filter": "datum.p=='g'"}], "mark": {"type": "line", "strokeWidth": 3.7, "color": "#23892b"},
   "encoding": {"x": {"field": "t", "type": "quantitative", "title": null}, "y": {"field": "v", "type": "quantitative", "title": null}}},
  {"data": {"values": [{}]}, "mark": {"type": "text", "text": "g", "fontSize": 42, "fontWeight": "bold", "align": "left", "baseline": "alphabetic", "color": "#000"},
   "encoding": {"x": {"datum": 0.15, "type": "quantitative", "title": null}, "y": {"datum": 21.0, "type": "quantitative", "title": null}}},
  {"data": {"values": [{}]}, "mark": {"type": "text", "text": "Sei whale", "fontSize": 18, "align": "center", "baseline": "alphabetic", "color": "#000"},
   "encoding": {"x": {"datum": 5.2, "type": "quantitative", "title": null}, "y": {"datum": 22.2, "type": "quantitative", "title": null}}}
 ]},
{"width": 296, "height": 211,
 "layer": [
  {"data": {"name": "seasons"}, "mark": {"type": "rule", "strokeWidth": 4.5},
   "encoding": {"x": {"field": "t0", "type": "quantitative", "title": null, "scale": {"domain": [-0.2, 12], "nice": false, "zero": false}, "axis": {"values": [0,1,2,3,4,5,6,7,8,9,10,11], "tickCount": 60, "labelExpr": "['Jan','Feb','Mar','Apr','May','Jun','Jul','Aug','Sep','Oct','Nov','Dec'][datum.value]", "labelAngle": 270, "labelFontSize": 19, "labelPadding": 21, "tickSize": 4, "domainColor": "#999", "tickColor": "#999", "labelOverlap": false, "labelFlush": false}},
    "x2": {"field": "t1"},
    "y": {"datum": -1.3, "type": "quantitative", "title": null, "scale": {"domain": [0, 25], "nice": false}, "axis": {"values": [0,5,10,15,20,25], "format": "d", "tickCount": 60, "labelFontSize": 19, "tickSize": 5, "labelPadding": 3, "domainColor": "#777", "tickColor": "#777", "labelOverlap": false}},
    "color": {"field": "s", "type": "nominal", "scale": {"domain": ["W","Sp","Su","A"], "range": ["#3c4cb4","#f2a7c9","#f28c3c","#b47c5c"]}, "legend": null}}},
  {"data": {"name": "bars"}, "transform": [{"filter": "datum.p=='h'"}], "mark": {"type": "rule", "strokeWidth": 2.2, "color": "#1d4d1d"},
   "encoding": {"x": {"field": "t", "type": "quantitative", "title": null}, "y": {"field": "v", "type": "quantitative", "title": null}, "y2": {"datum": 0}}},
  {"data": {"name": "lines"}, "transform": [{"filter": "datum.p=='h'"}], "mark": {"type": "line", "strokeWidth": 3.7, "color": "#23892b"},
   "encoding": {"x": {"field": "t", "type": "quantitative", "title": null}, "y": {"field": "v", "type": "quantitative", "title": null}}},
  {"data": {"values": [{}]}, "mark": {"type": "text", "text": "h", "fontSize": 42, "fontWeight": "bold", "align": "left", "baseline": "alphabetic", "color": "#000"},
   "encoding": {"x": {"datum": 0.1, "type": "quantitative", "title": null}, "y": {"datum": 20.5, "type": "quantitative", "title": null}}},
  {"data": {"values": [{}]}, "mark": {"type": "text", "text": "Sei whale", "fontSize": 18, "align": "center", "baseline": "alphabetic", "color": "#000"},
   "encoding": {"x": {"datum": 5.76, "type": "quantitative", "title": null}, "y": {"datum": 22.2, "type": "quantitative", "title": null}}}
 ]},
{"width": 298, "height": 211,
 "layer": [
  {"data": {"name": "seasons"}, "mark": {"type": "rule", "strokeWidth": 4.5},
   "encoding": {"x": {"field": "t0", "type": "quantitative", "title": null, "scale": {"domain": [-0.2, 12], "nice": false, "zero": false}, "axis": {"values": [0,1,2,3,4,5,6,7,8,9,10,11], "tickCount": 60, "labelExpr": "['Jan','Feb','Mar','Apr','May','Jun','Jul','Aug','Sep','Oct','Nov','Dec'][datum.value]", "labelAngle": 270, "labelFontSize": 19, "labelPadding": 21, "tickSize": 4, "domainColor": "#999", "tickColor": "#999", "labelOverlap": false, "labelFlush": false}},
    "x2": {"field": "t1"},
    "y": {"datum": -1.3, "type": "quantitative", "title": null, "scale": {"domain": [0, 25], "nice": false}, "axis": {"values": [0,5,10,15,20,25], "format": "d", "tickCount": 60, "labelFontSize": 19, "tickSize": 5, "labelPadding": 3, "domainColor": "#777", "tickColor": "#777", "labelOverlap": false}},
    "color": {"field": "s", "type": "nominal", "scale": {"domain": ["W","Sp","Su","A"], "range": ["#3c4cb4","#f2a7c9","#f28c3c","#b47c5c"]}, "legend": null}}},
  {"data": {"name": "bars"}, "transform": [{"filter": "datum.p=='i'"}], "mark": {"type": "rule", "strokeWidth": 2.2, "color": "#1d4d1d"},
   "encoding": {"x": {"field": "t", "type": "quantitative", "title": null}, "y": {"field": "v", "type": "quantitative", "title": null}, "y2": {"datum": 0}}},
  {"data": {"name": "lines"}, "transform": [{"filter": "datum.p=='i'"}], "mark": {"type": "line", "strokeWidth": 3.7, "color": "#23892b"},
   "encoding": {"x": {"field": "t", "type": "quantitative", "title": null}, "y": {"field": "v", "type": "quantitative", "title": null}}},
  {"data": {"values": [{}]}, "mark": {"type": "text", "text": "i", "fontSize": 42, "fontWeight": "bold", "align": "left", "baseline": "alphabetic", "color": "#000"},
   "encoding": {"x": {"datum": 0.2, "type": "quantitative", "title": null}, "y": {"datum": 20.5, "type": "quantitative", "title": null}}},
  {"data": {"values": [{}]}, "mark": {"type": "text", "text": "Sei whale", "fontSize": 18, "align": "center", "baseline": "alphabetic", "color": "#000"},
   "encoding": {"x": {"datum": 5.8, "type": "quantitative", "title": null}, "y": {"datum": 22.2, "type": "quantitative", "title": null}}}
 ]}
]}
],
"spacing": 20
}
